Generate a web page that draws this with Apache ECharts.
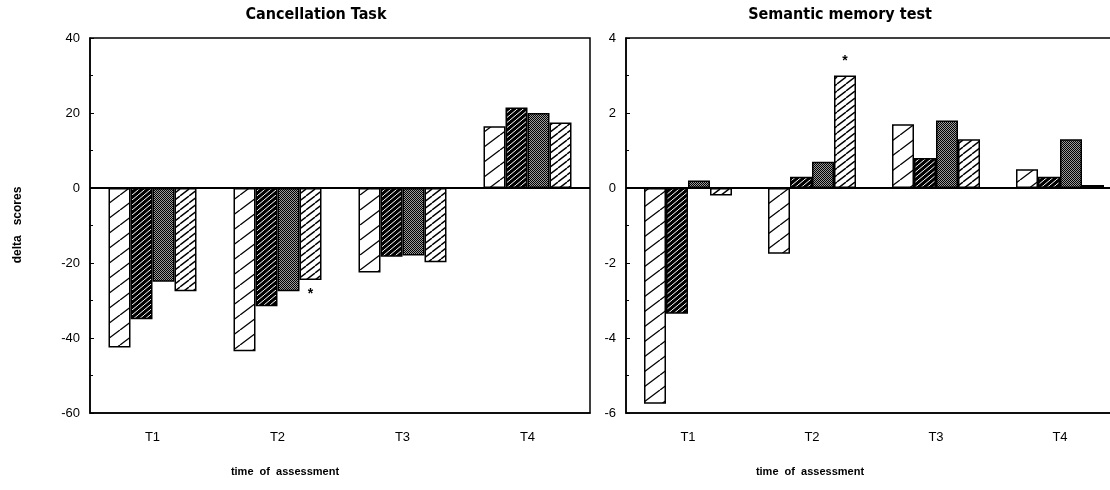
<!DOCTYPE html>
<html><head><meta charset="utf-8">
<script src="https://cdn.jsdelivr.net/npm/echarts@6/dist/echarts.min.js"></script>
<style>html,body{margin:0;padding:0;background:#fff}#c{width:1110px;height:490px}</style>
</head><body><div id="c"></div>
<script>
const categories = ['T1','T2','T3','T4'];
// Cancellation Task
const cancel1 = [-42.5, -43.5, -22.5, 16.5];
const cancel2 = [-35, -31.5, -18.3, 21.5];
const cancel3 = [-25, -27.5, -18, 20];
const cancel4 = [-27.5, -24.5, -19.8, 17.5];
// Semantic memory test
const sem1 = [-5.75, -1.75, 1.7, 0.5];
const sem2 = [-3.35, 0.3, 0.8, 0.3];
const sem3 = [0.2, 0.7, 1.8, 1.3];
const sem4 = [-0.2, 3.0, 1.3, 0.08];
const leftTicks = [-60, 40, 20];   // min, max, interval
const rightTicks = [-6, 4, 2];

function hatch(w,h,bg,fg,lw){
  const c=document.createElement('canvas'); c.width=w; c.height=h;
  const g=c.getContext('2d'); g.fillStyle=bg; g.fillRect(0,0,w,h);
  g.strokeStyle=fg; g.lineWidth=lw; g.beginPath();
  for (const dx of [-w,0,w]) { g.moveTo(dx,h); g.lineTo(dx+w,0); }
  g.stroke(); return c;
}
function stipple(){
  const c=document.createElement('canvas'); c.width=2; c.height=2;
  const g=c.getContext('2d'); g.fillStyle='#9a9a9a'; g.fillRect(0,0,2,2);
  g.fillStyle='#000'; g.fillRect(0,0,1,1); g.fillRect(1,1,1,1); return c;
}
const pats = [
  {image: hatch(20,15,'#fff','#000',1.3), repeat:'repeat'},
  {image: hatch(6,5,'#000','#fff',1), repeat:'repeat'},
  {image: stipple(), repeat:'repeat'},
  {image: hatch(9,7,'#fff','#000',1.4), repeat:'repeat'}
];
const tickFont = "'Liberation Sans Narrow','Liberation Sans',Arial,sans-serif";
const titleFont = "bold 16px 'DejaVu Sans Condensed','Liberation Sans Narrow',sans-serif";
const nameFont = "bold 11px 'Liberation Sans','DejaVu Sans',sans-serif";

function xAx(gi){
  return {type:'category', gridIndex:gi, data:categories,
    axisLine:{onZero:false, lineStyle:{color:'#000', width:1.5}},
    axisTick:{inside:true, length:4, lineStyle:{color:'#000'}},
    axisLabel:{color:'#000', fontFamily:tickFont, fontSize:13, margin:18}};
}
function yAx(gi, t){
  return {type:'value', gridIndex:gi, min:t[0], max:t[1], interval:t[2],
    axisLine:{show:true, lineStyle:{color:'#000', width:1.5}},
    axisTick:{show:true, inside:true, length:4, lineStyle:{color:'#000'}},
    minorTick:{show:true, splitNumber:2, length:3, lineStyle:{color:'#000'}},
    splitLine:{show:false},
    axisLabel:{color:'#000', fontFamily:tickFont, fontSize:13, margin:10}};
}
function bars(gi, arrs, starIdx, starPos){
  return arrs.map((arr,i)=>({
    type:'bar', xAxisIndex:gi, yAxisIndex:gi, barWidth:22, barGap:'0%',
    itemStyle:{color:pats[i], borderColor:'#000', borderWidth:1.5},
    data: arr.map((v,j)=> (i===3 && j===starIdx) ?
      {value:v, label:{show:true, position:starPos, distance:7, formatter:'*', color:'#000', fontSize:14, fontWeight:'bold'}} : v),
    markLine: i===0 ? {silent:true, symbol:'none', label:{show:false},
      lineStyle:{color:'#000', width:2, type:'solid'}, data:[{yAxis:0}]} : undefined,
    animation:false
  }));
}
const chart = echarts.init(document.getElementById('c'), null, {renderer:'canvas'});
chart.setOption({
  animation:false,
  grid:[
    {left:90, top:38, right:520, bottom:77, show:true, borderColor:'#000', borderWidth:1.5, outerBoundsMode:'none', containLabel:false},
    {left:626, top:38, right:-12, bottom:77, show:true, borderColor:'#000', borderWidth:1.5, outerBoundsMode:'none', containLabel:false}
  ],
  xAxis:[xAx(0), xAx(1)],
  yAxis:[yAx(0,leftTicks), yAx(1,rightTicks)],
  series:[...bars(0,[cancel1,cancel2,cancel3,cancel4],1,'bottom'),
          ...bars(1,[sem1,sem2,sem3,sem4],1,'top')],
  graphic:[
    {type:'text', x:316, y:7, style:{text:'Cancellation Task', font:titleFont, textAlign:'center', fill:'#000'}},
    {type:'text', x:840, y:7, style:{text:'Semantic memory test', font:titleFont, textAlign:'center', fill:'#000'}},
    {type:'text', x:285, y:466, style:{text:'time  of  assessment', font:nameFont, textAlign:'center', fill:'#000'}},
    {type:'text', x:810, y:466, style:{text:'time  of  assessment', font:nameFont, textAlign:'center', fill:'#000'}},
    {type:'text', x:18, y:225, rotation:Math.PI/2, style:{text:'delta   scores', font:"bold 12px 'Liberation Sans','DejaVu Sans',sans-serif", textAlign:'center', textVerticalAlign:'middle', fill:'#000'}}
  ]
});
</script></body></html>
